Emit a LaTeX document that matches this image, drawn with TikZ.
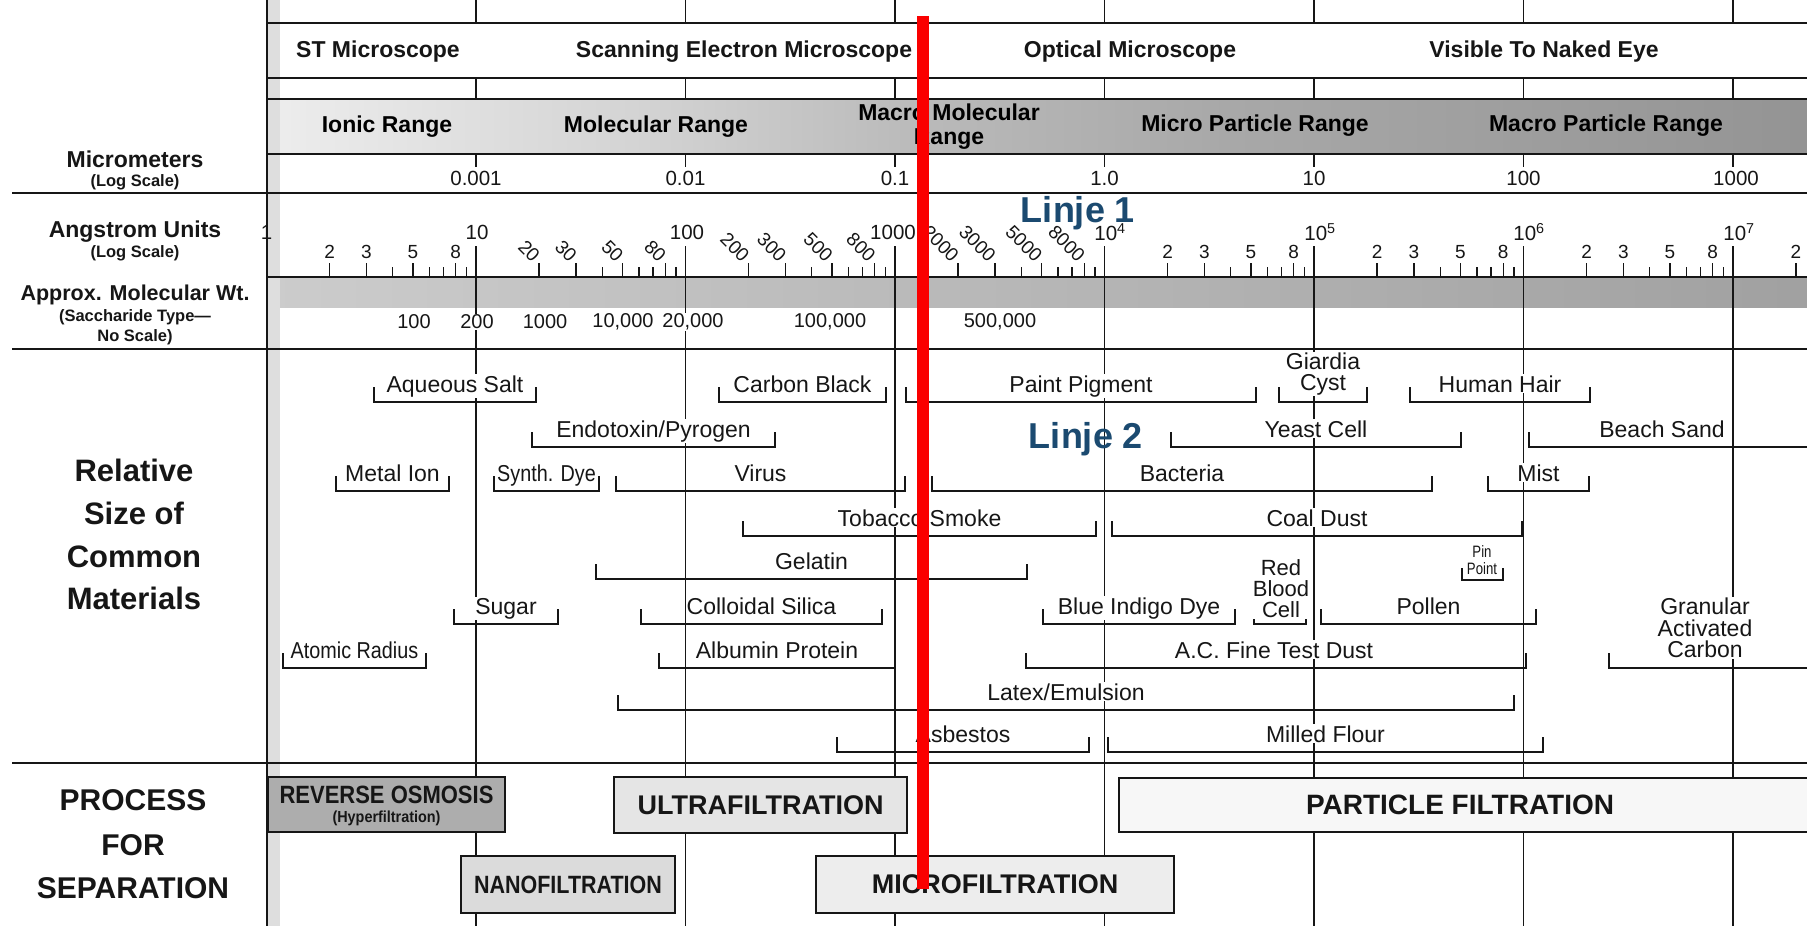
\documentclass[tikz,border=0pt]{standalone}
\usepackage{fontspec}
\setmainfont{Liberation Sans}
\usepackage{graphicx}
\definecolor{ink}{RGB}{22,22,22}
\definecolor{linjeblue}{RGB}{27,74,112}
\definecolor{marker}{RGB}{250,0,0}
% grey band behind the range names, darkening towards the large sizes
\pgfdeclarehorizontalshading{rangeband}{100bp}{color(0bp)=(black!7); color(25bp)=(black!7); color(37bp)=(black!17); color(46bp)=(black!27); color(56bp)=(black!34); color(75bp)=(black!42); color(100bp)=(black!42)}
\newcommand{\narrowtext}[2][0.86]{\scalebox{#1}[1]{#2}}
% size bar: x1, x2, bottom y, label centre x, node name, label
\newcommand{\matbar}[6]{%
  \draw[brk] (#1,#3-15) -- (#1,#3) -- (#2,#3) -- (#2,#3-15);
  \node[mat] (#5) at (#4,#3-10) {#6};}
\begin{document}
\begin{tikzpicture}[x=1pt,y=-1pt,
  dec/.style={line width=1.2pt, draw=ink},
  rule/.style={line width=1.8pt, draw=ink},
  heavyrule/.style={line width=2.4pt, draw=ink},
  brk/.style={line width=2.6pt, draw=ink},
  mat/.style={font=\fontsize{23}{22}\selectfont, text=ink, fill=white, inner sep=1pt, anchor=base},
  matml/.style={font=\fontsize{23}{21.5}\selectfont, text=ink, fill=white, inner sep=1pt, align=center},
  head/.style={font=\bfseries\fontsize{23}{24}\selectfont, text=ink},
  band/.style={font=\bfseries\fontsize{23}{24}\selectfont, text=black, align=center},
  num/.style={font=\fontsize{20.5}{21}\selectfont, text=ink, inner sep=1pt},
  ticklab/.style={font=\fontsize{19}{19}\selectfont, text=ink, inner sep=0.5pt},
  mwnum/.style={font=\fontsize{20}{20}\selectfont, text=ink, fill=white, inner sep=1pt},
  leftlab/.style={font=\bfseries\fontsize{23}{24}\selectfont, text=ink, inner sep=0pt},
  leftsub/.style={font=\bfseries\fontsize{16.5}{17}\selectfont, text=ink, inner sep=0pt},
  biglab/.style={font=\bfseries\fontsize{31}{32}\selectfont, text=ink, inner sep=0pt},
  procbox/.style={draw=ink, line width=2pt, inner sep=0pt, outer sep=0pt},
  proclab/.style={font=\bfseries\fontsize{27}{28}\selectfont, text=ink},
  linje/.style={font=\bfseries\fontsize{36}{36}\selectfont, text=linjeblue, anchor=base},
  redmark/.style={draw=marker, line width=12pt}
]
\useasboundingbox (0,0) rectangle (1807,926);
\clip (0,0) rectangle (1807,926);

% ---------- shaded bands ----------
\fill[shading=rangeband] (267,99) rectangle (1807,154);
\fill[left color=black!20, right color=black!37] (267,277) rectangle (1807,307);
\fill[black!13] (268,0) rectangle (280,926);

% ---------- decade lines ----------
\foreach \d in {1,...,7} {
  \pgfmathsetmacro{\xd}{266.5+209.5*\d}
  \draw[dec] (\xd,0) -- (\xd,23);
  \draw[dec] (\xd,78) -- (\xd,99);
  \draw[dec] (\xd,154) -- (\xd,167);
  \draw[dec] (\xd,246) -- (\xd,926);
}

% ---------- horizontal rules ----------
\draw[rule] (267,0) -- (267,926);
\draw[rule] (267,23) -- (1807,23);
\draw[rule] (267,78) -- (1807,78);
\draw[rule] (267,99) -- (1807,99);
\draw[rule] (267,154) -- (1807,154);
\draw[heavyrule] (12,193) -- (1807,193);
\draw[heavyrule] (267,277) -- (1807,277);
\draw[heavyrule] (12,349) -- (1807,349);
\draw[heavyrule] (12,763) -- (1807,763);

% ---------- Angstrom minor ticks ----------
\foreach \d in {0,...,7} {
  \pgfmathsetmacro{\xd}{266.5+209.5*\d}
  \foreach \n in {2,...,9} {
    \pgfmathsetmacro{\xt}{\xd+209.5*ln(\n)/ln(10)}
    \pgfmathsetmacro{\tl}{(\n==2||\n==3||\n==5||\n==8)?14:10}
    \draw[dec] (\xt,277-\tl) -- (\xt,277);
  }
}
\draw[dec] (266.5,246) -- (266.5,277);
% upright minor labels
\foreach \d in {0,4,5,6} {
  \pgfmathsetmacro{\xd}{266.5+209.5*\d}
  \foreach \n in {2,3,5,8} {
    \pgfmathsetmacro{\xt}{\xd+209.5*ln(\n)/ln(10)}
    \node[ticklab] (al-\d-\n) at (\xt,252) {\n};
  }
}
\node[ticklab] (al-7-2) at (1796,252) {2};
% slanted minor labels
\foreach \d/\z in {1/0,2/00,3/000} {
  \pgfmathsetmacro{\xd}{266.5+209.5*\d}
  \foreach \n in {2,3,5,8} {
    \pgfmathsetmacro{\xt}{\xd+209.5*ln(\n)/ln(10)}
    \node[ticklab, rotate=-45, anchor=east] (al-\d-\n) at (\xt-2,259) {\n\z};
  }
}
% decade labels
\node[num] (a0) at (266.5,232) {1};
\node[num] (a1) at (477,232) {10};
\node[num] (a2) at (687,232) {100};
\node[num] (a3) at (893,232) {1000};
\node[num] (a4) at (1110,232) {10\textsuperscript{4}};
\node[num] (a5) at (1320,232) {10\textsuperscript{5}};
\node[num] (a6) at (1529,232) {10\textsuperscript{6}};
\node[num] (a7) at (1739,232) {10\textsuperscript{7}};

% ---------- micrometre scale ----------
\node[num] (m1) at (476,178) {0.001};
\node[num] (m2) at (685.5,178) {0.01};
\node[num] (m3) at (895,178) {0.1};
\node[num] (m4) at (1104.5,178) {1.0};
\node[num] (m5) at (1314,178) {10};
\node[num] (m6) at (1523.5,178) {100};
\node[num] (m7) at (1736,178) {1000};

% ---------- header rows ----------
\node[head] (stm) at (378,52) {ST Microscope};
\node[head] (sem) at (744,52) {Scanning Electron Microscope};
\node[head] (opt) at (1130,52) {Optical Microscope};
\node[head] (eye) at (1544,52) {Visible To Naked Eye};

\node[band] (ionic) at (387,127) {Ionic Range};
\node[band] (molr) at (656,127) {Molecular Range};
\node[band] (macromol) at (949,127) {Macro Molecular\\Range};
\node[band] (micpr) at (1255,126) {Micro Particle Range};
\node[band] (macpr) at (1606,126) {Macro Particle Range};

% ---------- molecular weight ----------
\node[mwnum] (w1) at (414,322) {100};
\node[mwnum] (w2) at (477,322) {200};
\node[mwnum] (w3) at (545,322) {1000};
\node[mwnum] (w4) at (623,322) {10,000};
\node[mwnum] (w5) at (693,322) {20,000};
\node[mwnum] (w6) at (830,322) {100,000};
\node[mwnum] (w7) at (1000,322) {500,000};

% ---------- left column ----------
\node[leftlab] (lmicro) at (135,159) {Micrometers};
\node[leftsub] (lmicrolog) at (135,182) {(Log Scale)};
\node[leftlab] (lang) at (135,232) {Angstrom Units};
\node[leftsub] (langlog) at (135,253) {(Log Scale)};
\node[leftlab, font=\bfseries\fontsize{21.5}{22}\selectfont] (lmw) at (135,295) {Approx. Molecular Wt.};
\node[leftsub] (lmw2) at (135,317) {(Saccharide Type—};
\node[leftsub] (lmw3) at (135,337) {No Scale)};
\node[biglab] (lrel) at (134,470) {Relative};
\node[biglab] (lsize) at (134,513) {Size of};
\node[biglab] (lcom) at (134,557) {Common};
\node[biglab] (lmat) at (134,598) {Materials};
\node[biglab, font=\bfseries\fontsize{30}{32}\selectfont] (lproc) at (133,800) {PROCESS};
\node[biglab, font=\bfseries\fontsize{30}{32}\selectfont] (lfor) at (133,845) {FOR};
\node[biglab, font=\bfseries\fontsize{30}{32}\selectfont] (lsep) at (133,888) {SEPARATION};

% ---------- common materials ----------
\matbar{374}{536}{402}{455}{aqueous}{Aqueous Salt}
\matbar{719}{886}{402}{802.5}{carbonblack}{Carbon Black}
\matbar{906}{1256}{402}{1081}{paint}{Paint Pigment}
\draw[brk] (1279,387) -- (1279,402) -- (1367,402) -- (1367,387);
\node[matml] (giardia) at (1323,374) {Giardia\\Cyst};
\matbar{1410}{1590}{402}{1500}{hair}{Human Hair}

\matbar{532}{775}{447}{653.5}{endotoxin}{Endotoxin/Pyrogen}
\matbar{1171}{1461}{447}{1316}{yeast}{Yeast Cell}
\matbar{1529}{1840}{447}{1662}{sand}{Beach Sand}

\matbar{336}{449}{491}{392.5}{metal}{Metal Ion}
\matbar{494}{599}{491}{546.5}{synth}{\narrowtext{Synth. Dye}}
\matbar{616}{905}{491}{760.5}{virus}{Virus}
\matbar{932}{1432}{491}{1182}{bacteria}{Bacteria}
\matbar{1488}{1589}{491}{1538.5}{mist}{Mist}

\matbar{743}{1096}{536}{919.5}{tobacco}{Tobacco Smoke}
\matbar{1112}{1522}{536}{1317}{coal}{Coal Dust}

\matbar{596}{1027}{579}{811.5}{gelatin}{Gelatin}
\draw[brk] (1462,568) -- (1462,580) -- (1503,580) -- (1503,568);
\node[matml, font=\fontsize{16.5}{17}\selectfont, fill=none] (pinpoint) at (1482,560) {\narrowtext[0.8]{Pin}\\\narrowtext[0.8]{Point}};

\matbar{454}{558}{624}{506}{sugar}{Sugar}
\matbar{641}{882}{624}{761.5}{silica}{Colloidal Silica}
\matbar{1043}{1235}{624}{1139}{indigo}{Blue Indigo Dye}
\draw[brk] (1254,611) -- (1254,624) -- (1306,624) -- (1306,611);
\node[matml, font=\fontsize{22}{21}\selectfont] (rbc) at (1281,589) {Red\\Blood\\Cell};
\matbar{1321}{1536}{624}{1428.5}{pollen}{Pollen}

\matbar{283}{426}{668}{354.5}{atomic}{\narrowtext{Atomic Radius}}
\matbar{659}{895}{668}{777}{albumin}{Albumin Protein}
\matbar{1026}{1526}{668}{1274}{acdust}{A.C. Fine Test Dust}
\draw[brk] (1609,653) -- (1609,668) -- (1840,668);
\node[matml] (gac) at (1705,628) {Granular\\Activated\\Carbon};

\matbar{618}{1514}{710}{1066}{latex}{Latex/Emulsion}

\matbar{837}{1089}{752}{963}{asbestos}{Asbestos}
\matbar{1108}{1543}{752}{1325.5}{flour}{Milled Flour}

% ---------- separation processes ----------
\node[procbox, fill=black!32, minimum width=237pt, minimum height=55pt] (ro) at (386.5,804.5) {};
\node[font=\bfseries\fontsize{25}{25}\selectfont, text=ink] (rotxt) at (386.5,795) {\narrowtext[0.88]{REVERSE OSMOSIS}};
\node[font=\bfseries\fontsize{16}{16}\selectfont, text=ink] (rosub) at (386.5,818) {\narrowtext[0.9]{(Hyperfiltration)}};
\node[procbox, fill=black!10, minimum width=293pt, minimum height=56pt] (uf) at (760.5,805) {};
\node[proclab] (uftxt) at (760.5,805) {ULTRAFILTRATION};
\node[procbox, fill=black!3, minimum width=711pt, minimum height=54pt] (pf) at (1474.5,805) {};
\node[proclab, font=\bfseries\fontsize{28}{28}\selectfont] (pftxt) at (1460,805) {PARTICLE FILTRATION};
\node[procbox, fill=black!14, minimum width=214pt, minimum height=57pt] (nf) at (568,884.5) {};
\node[proclab, font=\bfseries\fontsize{25}{25}\selectfont] (nftxt) at (568,884.5) {\narrowtext{NANOFILTRATION}};
\node[procbox, fill=black!7, minimum width=358pt, minimum height=57pt] (mf) at (995,884.5) {};
\node[proclab] (mftxt) at (995,884.5) {MICROFILTRATION};

% ---------- annotations ----------
\node[linje] (linje1) at (1078,222) {Linje 1};
\node[linje] (linje2) at (1086,448) {Linje 2};
\coordinate (cuttop) at (923,16);
\coordinate (cutbot) at (923,889);
\draw[redmark] (cuttop) -- (cutbot);
\end{tikzpicture}
\end{document}
